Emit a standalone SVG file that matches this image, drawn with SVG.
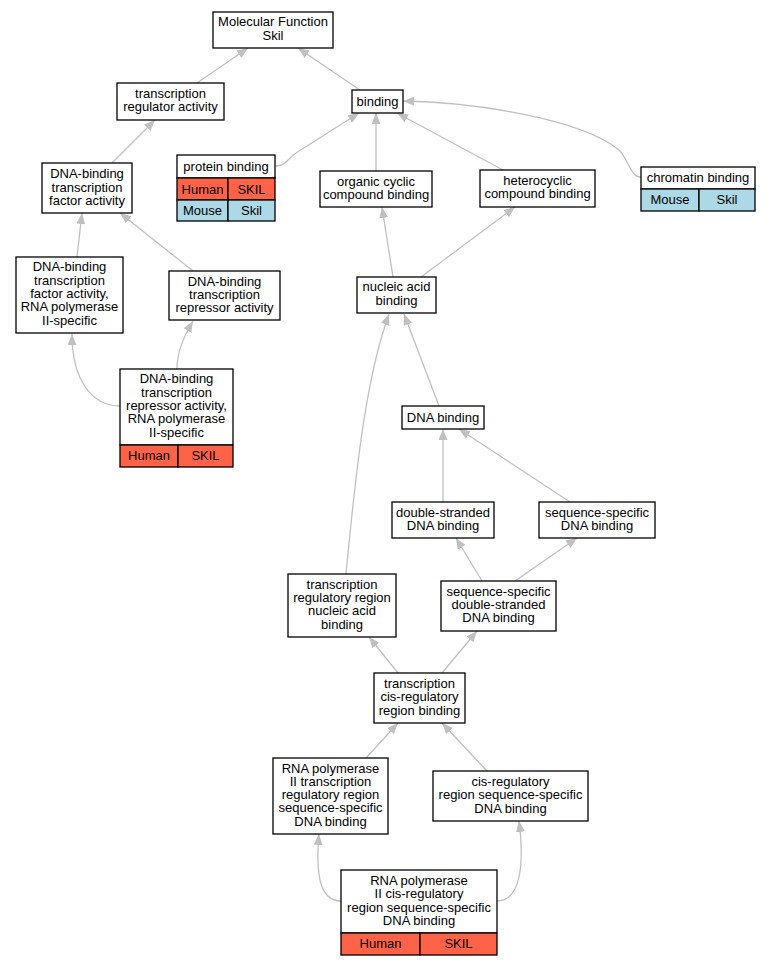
<svg xmlns="http://www.w3.org/2000/svg" width="769" height="965" viewBox="0 0 769 965">
<style>
.n{fill:#fff;stroke:#000;stroke-width:1.3}
.h{fill:#ff6347;stroke:#000;stroke-width:1.3}
.m{fill:#add8e6;stroke:#000;stroke-width:1.3}
text{font-family:"Liberation Sans",Arial,sans-serif;font-size:13px;text-anchor:middle;fill:#000}
.e{fill:none;stroke:#c0c0c0;stroke-width:1.3;marker-end:url(#a)}
</style>
<defs>
<marker id="a" markerUnits="userSpaceOnUse" markerWidth="12" markerHeight="10" refX="11" refY="4.5" orient="auto">
<path d="M0,0 L11,4.5 L0,9 z" fill="#c0c0c0"/>
</marker>
</defs>
<rect width="769" height="965" fill="#fff"/>
<g id="edges">
<path class="e" d="M197,83 L248,48"/>
<path class="e" d="M360,90 L298,48"/>
<path class="e" d="M112,163 L155,120"/>
<path class="e" d="M275.5,166 C286,166 288,158 296,153 L359,113"/>
<path class="e" d="M376,171 L376,113"/>
<path class="e" d="M503,170 L397,113"/>
<path class="e" d="M641,177 C630,177 628,158 619,150 C580,118 470,102 403,101"/>
<path class="e" d="M77,257 L82,213"/>
<path class="e" d="M193,271 L120,213"/>
<path class="e" d="M120,406 C92,406 72,380 72,334"/>
<path class="e" d="M177,369 C177,350 185,335 193,321"/>
<path class="e" d="M393,277 L382,207"/>
<path class="e" d="M421,277 L515,207"/>
<path class="e" d="M439,406 L404,314"/>
<path class="e" d="M346,574 C355,480 365,380 389,314"/>
<path class="e" d="M443,502 L443,429"/>
<path class="e" d="M570,502 L459,429"/>
<path class="e" d="M482,581 L456,538"/>
<path class="e" d="M515,581 L577,538"/>
<path class="e" d="M398,673 L369,637"/>
<path class="e" d="M442,673 L477,631"/>
<path class="e" d="M366,758 L398,723"/>
<path class="e" d="M487,771 L442,723"/>
<path class="e" d="M341,901 C318,901 316,870 319,834"/>
<path class="e" d="M497,901 C522,901 524,860 519,821"/>
</g>
<g id="mf">
<rect class="n" x="213" y="12" width="120" height="36"/>
<text x="273" y="26">Molecular Function</text>
<text x="273" y="39.5">Skil</text>
</g>
<g id="tra">
<rect class="n" x="117" y="83" width="107" height="37"/>
<text x="170.5" y="97.5">transcription</text>
<text x="170.5" y="110.8">regulator activity</text>
</g>
<g id="binding">
<rect class="n" x="352" y="90" width="51" height="23"/>
<text x="377.5" y="105.5">binding</text>
</g>
<g id="protein">
<rect class="n" x="177" y="155" width="98" height="23"/>
<text x="226" y="170.5">protein binding</text>
<rect class="h" x="177" y="178" width="51" height="22"/>
<rect class="h" x="228" y="178" width="47" height="22"/>
<text x="202.5" y="193.5">Human</text>
<text x="251.5" y="193.5">SKIL</text>
<rect class="m" x="177" y="200" width="51" height="21"/>
<rect class="m" x="228" y="200" width="47" height="21"/>
<text x="202.5" y="215">Mouse</text>
<text x="251.5" y="215">Skil</text>
</g>
<g id="dbtf">
<rect class="n" x="42" y="163" width="90" height="50"/>
<text x="87" y="178.3">DNA-binding</text>
<text x="87" y="191.6">transcription</text>
<text x="87" y="204.9">factor activity</text>
</g>
<g id="organic">
<rect class="n" x="320" y="171" width="112" height="36"/>
<text x="376" y="185.5">organic cyclic</text>
<text x="376" y="198.8">compound binding</text>
</g>
<g id="hetero">
<rect class="n" x="480" y="170" width="115" height="37"/>
<text x="537.5" y="184.8">heterocyclic</text>
<text x="537.5" y="198.1">compound binding</text>
</g>
<g id="chromatin">
<rect class="n" x="641" y="167" width="114" height="22"/>
<text x="698" y="182">chromatin binding</text>
<rect class="m" x="641" y="189" width="58" height="22"/>
<rect class="m" x="699" y="189" width="56" height="22"/>
<text x="670" y="204">Mouse</text>
<text x="727" y="204">Skil</text>
</g>
<g id="nucleic">
<rect class="n" x="357" y="277" width="79" height="36"/>
<text x="396.5" y="291.3">nucleic acid</text>
<text x="396.5" y="304.6">binding</text>
</g>
<g id="dbtf2">
<rect class="n" x="16" y="257" width="107" height="76"/>
<text x="69.5" y="271.3">DNA-binding</text>
<text x="69.5" y="284.6">transcription</text>
<text x="69.5" y="297.9">factor activity,</text>
<text x="69.5" y="311.2">RNA polymerase</text>
<text x="69.5" y="324.5">II-specific</text>
</g>
<g id="dbtr">
<rect class="n" x="169" y="271" width="111" height="49"/>
<text x="224.5" y="285.5">DNA-binding</text>
<text x="224.5" y="298.8">transcription</text>
<text x="224.5" y="312.1">repressor activity</text>
</g>
<g id="dbtr2">
<rect class="n" x="120" y="369" width="113" height="76"/>
<text x="176.5" y="383.3">DNA-binding</text>
<text x="176.5" y="396.6">transcription</text>
<text x="176.5" y="409.9">repressor activity,</text>
<text x="176.5" y="423.2">RNA polymerase</text>
<text x="176.5" y="436.5">II-specific</text>
<rect class="h" x="120" y="445" width="58" height="22"/>
<rect class="h" x="178" y="445" width="55" height="22"/>
<text x="149" y="460">Human</text>
<text x="205.5" y="460">SKIL</text>
</g>
<g id="dna">
<rect class="n" x="402" y="406" width="82" height="23"/>
<text x="443" y="421.5">DNA binding</text>
</g>
<g id="ds">
<rect class="n" x="392" y="502" width="102" height="36"/>
<text x="443" y="516.5">double-stranded</text>
<text x="443" y="529.8">DNA binding</text>
</g>
<g id="ss">
<rect class="n" x="539" y="502" width="116" height="36"/>
<text x="597" y="516.5">sequence-specific</text>
<text x="597" y="529.8">DNA binding</text>
</g>
<g id="trrnab">
<rect class="n" x="288" y="574" width="108" height="63"/>
<text x="342" y="588.7">transcription</text>
<text x="342" y="602">regulatory region</text>
<text x="342" y="615.3">nucleic acid</text>
<text x="342" y="628.6">binding</text>
</g>
<g id="ssds">
<rect class="n" x="441" y="581" width="115" height="50"/>
<text x="498.5" y="595.8">sequence-specific</text>
<text x="498.5" y="609.1">double-stranded</text>
<text x="498.5" y="622.4">DNA binding</text>
</g>
<g id="tcrb">
<rect class="n" x="374" y="673" width="91" height="50"/>
<text x="419.5" y="688">transcription</text>
<text x="419.5" y="701.3">cis-regulatory</text>
<text x="419.5" y="714.6">region binding</text>
</g>
<g id="rnatrr">
<rect class="n" x="273" y="758" width="115" height="76"/>
<text x="330.5" y="772.5">RNA polymerase</text>
<text x="330.5" y="785.8">II transcription</text>
<text x="330.5" y="799.1">regulatory region</text>
<text x="330.5" y="812.4">sequence-specific</text>
<text x="330.5" y="825.7">DNA binding</text>
</g>
<g id="cisreg">
<rect class="n" x="433" y="771" width="155" height="50"/>
<text x="510.5" y="786">cis-regulatory</text>
<text x="510.5" y="799.3">region sequence-specific</text>
<text x="510.5" y="812.6">DNA binding</text>
</g>
<g id="rnacis">
<rect class="n" x="341" y="870" width="156" height="63"/>
<text x="419" y="885">RNA polymerase</text>
<text x="419" y="898.3">II cis-regulatory</text>
<text x="419" y="911.6">region sequence-specific</text>
<text x="419" y="924.9">DNA binding</text>
<rect class="h" x="341" y="933" width="79" height="22"/>
<rect class="h" x="420" y="933" width="77" height="22"/>
<text x="380.5" y="948">Human</text>
<text x="458.5" y="948">SKIL</text>
</g>
</svg>
